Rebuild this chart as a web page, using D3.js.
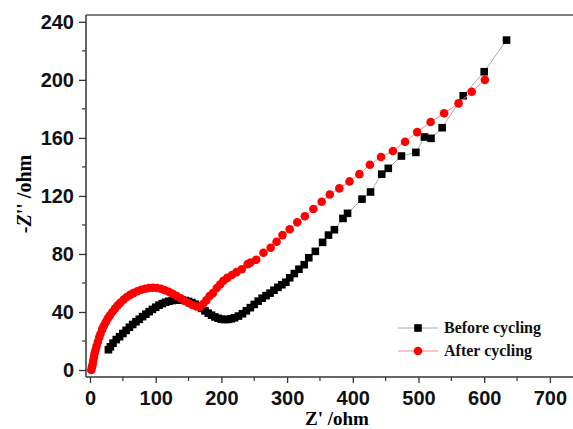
<!DOCTYPE html>
<html>
<head>
<meta charset="utf-8">
<script src="https://cdn.jsdelivr.net/npm/d3@7"></script>
<style>
  body { margin: 0; background: #fff; }
  svg { display: block; }
</style>
</head>
<body>
<svg id="chart" width="573" height="429"></svg>
<script>
// Before cycling (black squares)
const beforeRe = [28, 31, 35, 40, 45, 50, 55, 60, 65, 70, 75, 80, 85, 90, 95, 100, 105, 110, 115, 120, 125, 130, 135, 140, 145, 150, 155, 160, 165, 170, 175, 180, 185, 190, 195, 200, 205, 210, 215, 220, 226, 232, 238, 244, 250, 256, 262, 268, 274, 280, 286, 292, 298, 304, 311, 318, 326, 333, 343, 354, 363, 372, 385, 392, 414, 427, 444, 454, 474, 496, 509, 519, 536, 568, 600, 634];
const beforeIm = [14, 16, 18.5, 21, 23, 25.2, 27.3, 29.5, 31.4, 33.3, 35, 36.8, 38.5, 40.2, 41.8, 43.3, 44.7, 45.8, 46.7, 47.4, 47.9, 48.2, 48.3, 48.2, 47.9, 47.3, 46.5, 45.4, 44, 42.5, 40.8, 39.2, 37.8, 36.6, 35.7, 35.1, 34.8, 34.9, 35.3, 36, 37.2, 38.8, 40.8, 43, 45.2, 47.5, 49.5, 51.3, 53, 55, 57, 58.8, 60.5, 63.6, 66.5, 69.5, 72.6, 77.4, 81.8, 88, 93, 96.7, 104.5, 108, 117.8, 122.7, 135, 139, 147.5, 150, 160.6, 159.7, 167, 189, 205.6, 227.4];

// After cycling (red circles)
const afterRe = [2, 3, 4, 5, 6, 7, 8.5, 10, 12, 14, 16, 18.5, 21, 24, 27, 30, 34, 38, 42, 46, 51, 56, 61, 66, 72, 78, 84, 90, 96, 102, 108, 114, 120, 126, 132, 138, 144, 150, 156, 162, 167, 172, 177, 182, 187, 193, 198, 203, 209, 216, 223, 231, 240, 244, 253, 264, 275, 284, 293, 304, 315.5, 327, 340, 352.6, 365, 379.5, 395, 410, 426, 443, 461, 479.5, 498, 518.5, 539, 561, 581, 601];
const afterIm = [0, 2, 4, 6.5, 9, 11.5, 14, 16.5, 19.5, 22.5, 25, 28, 30.5, 33, 35.5, 37.5, 40, 42.3, 44.5, 46.3, 48.5, 50.3, 51.8, 53, 54.3, 55.3, 56, 56.5, 56.7, 56.5, 56, 55, 54, 52.5, 51, 49.5, 47.8, 46.2, 44.8, 43.8, 43.5, 45.5, 48, 51, 53, 56.5, 59, 61.5, 63.5, 65.5, 67.5, 69.5, 73, 74, 76, 80.8, 84.3, 88.4, 93, 97, 101.8, 106, 111, 116, 121, 125.2, 130, 135, 141.5, 146.8, 151, 157.3, 164, 171, 177, 183.8, 191.8, 200];

const xTicks = [0, 100, 200, 300, 400, 500, 600, 700];
const xMinor = [50, 150, 250, 350, 450, 550, 650];
const yTicks = [0, 40, 80, 120, 160, 200, 240];
const yMinor = [20, 60, 100, 140, 180, 220];

const seriesNames = ["Before cycling", "After cycling"];

const before = beforeRe.map((d, i) => ({ x: d, y: beforeIm[i] }));
const after = afterRe.map((d, i) => ({ x: d, y: afterIm[i] }));

const svg = d3.select("#chart");
const plotLeft = 86, plotTop = 15, plotRight = 580, plotBottom = 377;

const x = d3.scaleLinear().domain([-6.1, 745.8]).range([plotLeft, plotRight]);
const y = d3.scaleLinear().domain([-4.8, 244.7]).range([plotBottom, plotTop]);

const axisColor = "#333";
const tickFont = "'Liberation Sans', Arial, sans-serif";
const serif = "'Liberation Serif', 'Times New Roman', serif";

// frame: left, bottom, top
svg.append("line").attr("x1", plotLeft).attr("x2", plotLeft).attr("y1", plotTop).attr("y2", plotBottom)
    .attr("stroke", axisColor).attr("stroke-width", 1.5);
svg.append("line").attr("x1", plotLeft).attr("x2", 573).attr("y1", plotBottom).attr("y2", plotBottom)
    .attr("stroke", axisColor).attr("stroke-width", 1.5);
svg.append("line").attr("x1", plotLeft).attr("x2", 573).attr("y1", plotTop).attr("y2", plotTop)
    .attr("stroke", "#555").attr("stroke-width", 1.5);

// x axis
const gx = svg.append("g").attr("transform", `translate(0,${plotBottom})`)
    .call(d3.axisBottom(x).tickValues(xTicks).tickSize(6).tickPadding(8).tickSizeOuter(0));
gx.select(".domain").remove();
gx.selectAll("line").attr("stroke", axisColor).attr("stroke-width", 1.3);
gx.selectAll("text").attr("font-family", tickFont).attr("font-weight", "bold")
    .attr("font-size", "20px").attr("fill", "#111");
svg.append("g").attr("transform", `translate(0,${plotBottom})`)
    .selectAll("line").data(xMinor).enter().append("line")
    .attr("x1", d => x(d)).attr("x2", d => x(d)).attr("y1", 0).attr("y2", 4)
    .attr("stroke", axisColor).attr("stroke-width", 1.2);

// y axis
const gy = svg.append("g").attr("transform", `translate(${plotLeft},0)`)
    .call(d3.axisLeft(y).tickValues(yTicks).tickSize(7).tickPadding(5).tickSizeOuter(0));
gy.select(".domain").remove();
gy.selectAll("line").attr("stroke", axisColor).attr("stroke-width", 1.3);
gy.selectAll("text").attr("font-family", tickFont).attr("font-weight", "bold")
    .attr("font-size", "20px").attr("fill", "#111");
svg.append("g").attr("transform", `translate(${plotLeft},0)`)
    .selectAll("line").data(yMinor).enter().append("line")
    .attr("x1", -4).attr("x2", 0).attr("y1", d => y(d)).attr("y2", d => y(d))
    .attr("stroke", axisColor).attr("stroke-width", 1.2);

// axis titles
svg.append("text")
    .attr("x", 337).attr("y", 425)
    .attr("text-anchor", "middle")
    .attr("font-family", serif).attr("font-weight", "bold").attr("font-size", "19px")
    .text("Z' /ohm");

const yt = svg.append("text")
    .attr("transform", "translate(31,194) rotate(-90)")
    .attr("text-anchor", "middle")
    .attr("font-family", serif).attr("font-weight", "bold").attr("font-size", "20px");
yt.append("tspan").text("-");
yt.append("tspan").attr("font-style", "italic").text("Z");
yt.append("tspan").text("'' /ohm");

const line = d3.line().x(d => x(d.x)).y(d => y(d.y));
const plot = svg.append("g");

// Before cycling
plot.append("path").datum(before).attr("d", line)
    .attr("fill", "none").attr("stroke", "#aaa").attr("stroke-width", 1);
plot.selectAll(".sq").data(before).enter().append("rect")
    .attr("class", "sq")
    .attr("x", d => x(d.x) - 3.8).attr("y", d => y(d.y) - 3.8)
    .attr("width", 7.6).attr("height", 7.6)
    .attr("fill", "#000");

// After cycling
plot.append("path").datum(after).attr("d", line)
    .attr("fill", "none").attr("stroke", "#f88").attr("stroke-width", 1);
plot.selectAll(".ci").data(after).enter().append("circle")
    .attr("class", "ci")
    .attr("cx", d => x(d.x)).attr("cy", d => y(d.y)).attr("r", 4.3)
    .attr("fill", "#f00");

// legend
const legend = svg.append("g");
const legendY = [328, 351];
legend.append("line").attr("x1", 398).attr("x2", 438).attr("y1", legendY[0]).attr("y2", legendY[0])
    .attr("stroke", "#aaa").attr("stroke-width", 1);
legend.append("rect").attr("x", 418 - 3.8).attr("y", legendY[0] - 3.8)
    .attr("width", 7.6).attr("height", 7.6).attr("fill", "#000");
legend.append("line").attr("x1", 398).attr("x2", 438).attr("y1", legendY[1]).attr("y2", legendY[1])
    .attr("stroke", "#f88").attr("stroke-width", 1);
legend.append("circle").attr("cx", 418).attr("cy", legendY[1]).attr("r", 4.3).attr("fill", "#f00");
legend.selectAll("text").data(seriesNames).enter().append("text")
    .attr("x", 444).attr("y", (d, i) => legendY[i] + 5)
    .attr("font-family", serif).attr("font-weight", "bold").attr("font-size", "16px")
    .attr("fill", "#111")
    .text(d => d);
</script>
</body>
</html>
